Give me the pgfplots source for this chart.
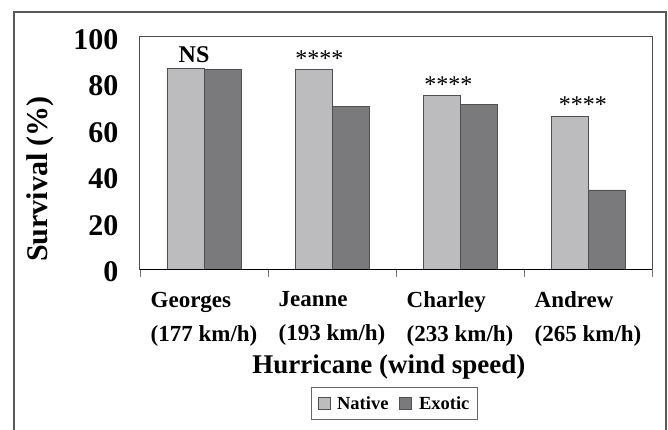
\documentclass[border=0pt]{standalone}
\usepackage{pgfplots}
\pgfplotsset{compat=1.18}
\usepackage{fontspec}
\setmainfont{Liberation Serif}
\definecolor{native}{RGB}{188,188,190}
\definecolor{exotic}{RGB}{122,122,125}
\definecolor{edge}{RGB}{80,80,80}
\begin{document}
\begin{tikzpicture}
\useasboundingbox (-140pt,-159.7pt) rectangle (528pt,269.3pt);
\draw[black!65, line width=1.3pt] (-126pt,-175pt) -- (-126pt,257.3pt) -- (526pt,257.3pt) -- (526pt,-175pt);
\begin{axis}[
  at={(0pt,0pt)}, anchor=south west,
  width=512pt, height=232.6pt, scale only axis,
  xmin=-0.5, xmax=3.5, ymin=0, ymax=100,
  clip=false,
  ybar, bar width=37pt,
  axis line style={draw=black!70, line width=1pt},
  major tick length=0pt,
  tick pos=left,
  xtick={0,1,2,3},
  xticklabels={{Georges\\(177 km/h)},{Jeanne\\(193 km/h)},{Charley\\(233 km/h)},{Andrew\\(265 km/h)}},
  xticklabel style={align=left, font=\fontsize{23}{34}\selectfont\bfseries, yshift=-19pt},
  extra x ticks={-0.5,0.5,1.5,2.5,3.5},
  extra x tick labels={},
  extra x tick style={major tick length=8pt, tick align=outside, grid=none, tick style={draw=black!55, line width=0.8pt}},
  ytick={0,20,40,60,80,100},
  /pgf/number format/assume math mode=true,
  yticklabel style={font=\fontsize{30}{36}\selectfont\bfseries, xshift=-18pt, yshift=-2.5pt},
  xlabel={Hurricane (wind speed)},
  xlabel style={at={(axis description cs:0.486,-0.4458)}, anchor=base, font=\fontsize{27}{30}\selectfont\bfseries},
  ylabel={Survival (\%)},
  ylabel style={at={(axis description cs:-0.195,0.388)}, anchor=center, font=\fontsize{30}{34}\selectfont\bfseries},
  legend columns=2,
  legend style={at={(axis description cs:0.497,-0.577)}, anchor=center, draw=black!60, line width=0.8pt,
    font=\fontsize{18.5}{20}\selectfont\bfseries, inner xsep=6pt, inner ysep=6.5pt,
    /tikz/every even column/.append style={column sep=9pt}},
]
\addplot[fill=native, draw=edge, line width=0.6pt, bar shift=-18.5pt,
  legend image code/.code={\draw[fill=native, draw=edge, line width=0.6pt] (0pt,-5.5pt) rectangle (12pt,6pt); \path (17pt,0pt);}]
  coordinates {(0,86.4) (1,86.0) (2,74.6) (3,65.6)};
\addplot[fill=exotic, draw=edge, line width=0.6pt, bar shift=18.5pt,
  legend image code/.code={\draw[fill=exotic, draw=edge, line width=0.6pt] (0pt,-5.5pt) rectangle (12pt,6pt); \path (17pt,0pt);}]
  coordinates {(0,86.0) (1,69.9) (2,70.8) (3,34.1)};
\legend{Native, Exotic}
\draw[black, line width=1.3pt] (axis cs:-0.5,0) -- (axis cs:3.5,0);
\node[anchor=base, font=\fontsize{24}{24}\selectfont\bfseries] at (axis cs:-0.078,88.7) {NS};
\node[anchor=base, font=\fontsize{24}{24}\selectfont] at (axis cs:0.902,87.4) {****};
\node[anchor=base, font=\fontsize{24}{24}\selectfont] at (axis cs:1.91,75.8) {****};
\node[anchor=base, font=\fontsize{24}{24}\selectfont] at (axis cs:2.96,67.2) {****};
\end{axis}
\end{tikzpicture}
\end{document}
